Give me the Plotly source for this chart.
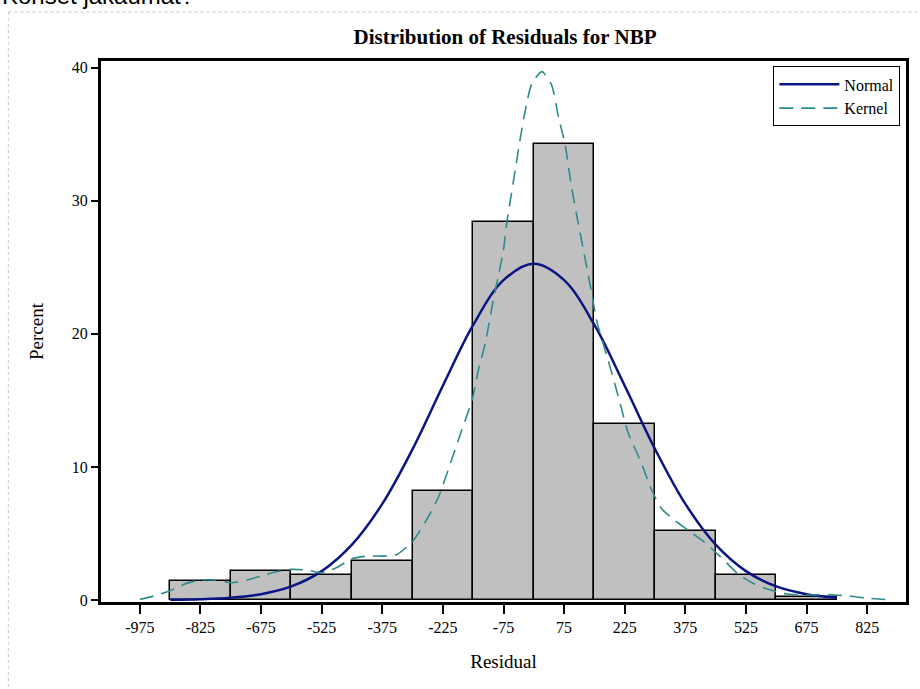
import plotly.graph_objects as go

# Histogram (percent per 150-wide bin, bins centred on tick labels)
bin_centers = [-825, -675, -525, -375, -225, -75, 75, 225, 375, 525, 675]
bin_percent = [1.45, 2.18, 1.88, 2.95, 8.22, 28.4, 34.3, 13.23, 5.19, 1.9, 0.2]
bin_width = 150

# Fitted normal curve
normal_x = [-900, -825, -750, -675, -600, -525, -450, -375, -300, -225, -150, -75,
            0, 75, 150, 225, 300, 375, 450, 525, 600, 675, 750]
normal_y = [0.02, 0.06, 0.17, 0.44, 1.02, 2.17, 4.16, 7.22, 11.34, 16.10, 20.67, 24.03,
            25.26, 24.03, 20.67, 16.10, 11.34, 7.22, 4.16, 2.17, 1.02, 0.44, 0.17]

# Kernel density curve
kernel_x = [-975, -940, -900, -860, -825, -790, -750, -710, -675, -640, -600, -560,
            -525, -490, -450, -410, -370, -340, -300, -260, -235, -206, -178, -153,
            -137, -120, -100, -88, -75, -67, -46, -34, -21, -5, 20, 44, 61, 77, 93,
            110, 126, 143, 155, 184, 209, 233, 266, 291, 315, 348, 381, 420, 460,
            504, 540, 570, 627, 680, 735, 780, 820, 880]
kernel_y = [0.05, 0.3, 0.7, 1.25, 1.5, 1.5, 1.3, 1.5, 1.8, 2.1, 2.3, 2.25,
            2.05, 2.4, 3.1, 3.3, 3.3, 3.4, 4.4, 6.3, 7.8, 10.3, 12.8, 15.0,
            17.3, 19.3, 22.6, 24.3, 26.3, 28.3, 32.3, 34.6, 36.8, 38.8, 39.7, 38.7, 36.3, 34.3, 31.1,
            28.3, 25.8, 23.1, 21.05, 18.0, 15.3, 12.6, 10.3, 8.3, 6.9, 6.0, 5.26, 4.4, 3.3,
            2.0, 1.3, 0.9, 0.45, 0.38, 0.4, 0.3, 0.15, 0.02]

x_ticks = [-975, -825, -675, -525, -375, -225, -75, 75, 225, 375, 525, 675, 825]
y_ticks = [0, 10, 20, 30, 40]

title_text = "Distribution of Residuals for NBP"
x_title = "Residual"
y_title = "Percent"
page_text = "Kohset jakaumat?"

SERIF = "Liberation Serif, Times New Roman, serif"

fig = go.Figure()
fig.add_trace(go.Bar(
    x=bin_centers, y=bin_percent, width=bin_width,
    marker=dict(color="#C0C0C0", line=dict(color="#000000", width=1.5)),
    showlegend=False, hoverinfo="x+y"))
fig.add_trace(go.Scatter(
    x=normal_x, y=normal_y, mode="lines", name="Normal",
    line=dict(color="#0A1484", width=2.5, shape="spline", smoothing=1.0)))
fig.add_trace(go.Scatter(
    x=kernel_x, y=kernel_y, mode="lines", name="Kernel",
    line=dict(color="#2E8B8B", width=1.6, dash="14px,8px", shape="spline", smoothing=0.6)))

fig.update_layout(
    width=920, height=689,
    margin=dict(l=101, r=11, t=61, b=87),
    paper_bgcolor="white", plot_bgcolor="white",
    font=dict(family=SERIF, color="#000000", size=15),
    title=dict(text="<b>" + title_text + "</b>", x=505 / 920, xanchor="center",
               y=1 - 37 / 689, yanchor="middle",
               font=dict(family=SERIF, size=21, color="#000000")),
    bargap=0,
    legend=dict(x=0.993, y=0.99, xanchor="right", yanchor="top",
                bgcolor="white", bordercolor="#000000", borderwidth=1,
                font=dict(family=SERIF, size=16), tracegroupgap=0,
                itemwidth=60),
    xaxis=dict(range=[-1071, 921], tickmode="array", tickvals=x_ticks,
               ticktext=[str(v) for v in x_ticks], ticks="outside", ticklen=9,
               tickwidth=2, tickcolor="#000000", showline=True, linewidth=3,
               linecolor="#000000", mirror=True, showgrid=False, zeroline=False,
               tickfont=dict(family=SERIF, size=16),
               title=dict(text=x_title, font=dict(family=SERIF, size=19), standoff=20)),
    yaxis=dict(range=[-0.15, 40.5], tickmode="array", tickvals=y_ticks,
               ticks="outside", ticklen=7, tickwidth=2, tickcolor="#000000",
               showline=True, linewidth=3, linecolor="#000000", mirror=True,
               showgrid=False, zeroline=False,
               tickfont=dict(family=SERIF, size=16),
               title=dict(text=y_title, font=dict(family=SERIF, size=19), standoff=24)),
)

# page frame of the screenshot (dotted grey lines)
fig.add_shape(type="line", xref="paper", yref="paper",
              x0=(8 - 101) / 808, x1=(920 - 101) / 808,
              y0=(602 - 12) / 541, y1=(602 - 12) / 541,
              line=dict(color="#C8C0C8", width=1, dash="dot"))
fig.add_shape(type="line", xref="paper", yref="paper",
              x0=(8 - 101) / 808, x1=(8 - 101) / 808,
              y0=(602 - 12) / 541, y1=(602 - 689) / 541,
              line=dict(color="#C8C8C0", width=1, dash="dot"))

# cut-off page heading at the very top
fig.add_annotation(text=page_text, xref="paper", yref="paper",
                   x=(0 - 101) / 808, y=(602 - 11) / 541, xanchor="left", yanchor="bottom",
                   showarrow=False, font=dict(family="Liberation Sans, Arial, sans-serif",
                                              size=24, color="#000000"))

fig.write_html("out.html", config={"displayModeBar": False},
               post_script="document.body.style.margin='0px';")
